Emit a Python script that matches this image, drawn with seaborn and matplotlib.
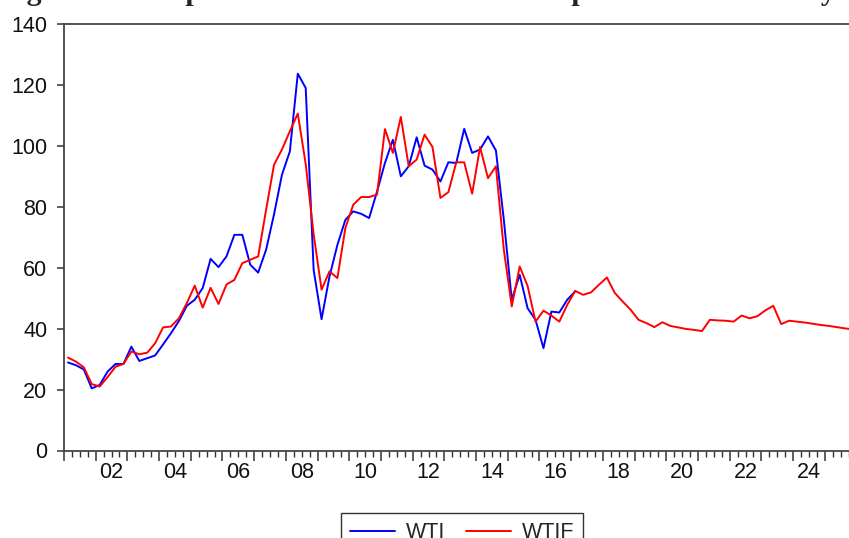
import numpy as np
import pandas as pd
import matplotlib
matplotlib.use("Agg")
import matplotlib.pyplot as plt
from matplotlib.ticker import MultipleLocator
import seaborn as sns

# quarterly observations, first one is 2001Q1
start_year = 2001

# WTI spot (quarterly average), 2001Q1 - 2017Q1
wti = [28.9, 28.0, 26.6, 20.4, 21.5, 25.9, 28.4, 28.4, 34.1, 29.4,
       30.3, 31.2, 34.8, 38.5, 42.5, 47.5, 49.5, 53.3, 62.9, 60.2,
       63.7, 70.8, 70.8, 61.0, 58.4, 65.9, 77.5, 90.5, 98.2, 123.7,
       119.0, 59.3, 43.1, 57.1, 67.5, 75.7, 78.5, 77.7, 76.3, 85.0,
       94.4, 102.0, 90.0, 93.3, 102.8, 93.5, 92.2, 88.3, 94.6, 94.4,
       105.6, 97.7, 98.8, 103.1, 98.5, 75.7, 49.5, 57.7, 46.7, 42.9,
       33.6, 45.6, 45.3, 49.5, 52.2]

# WTIF (fitted + forecast), 2001Q1 - 2025Q4
wtif = [30.5, 29.2, 27.3, 21.8, 21.0, 24.1, 27.5, 28.4, 32.5, 31.6,
        32.1, 35.2, 40.4, 40.7, 43.4, 48.4, 54.1, 46.9, 53.4, 48.1,
        54.5, 56.0, 61.5, 62.6, 63.7, 79.0, 93.8, 98.8, 104.8, 110.6,
        94.0, 71.0, 52.8, 58.8, 56.6, 73.0, 80.7, 83.2, 83.2, 84.0,
        105.5, 97.7, 109.5, 93.3, 95.5, 103.7, 99.6, 82.9, 84.8, 94.6,
        94.6, 84.3, 99.6, 89.4, 93.3, 65.9, 47.3, 60.4, 54.0, 42.3,
        45.9, 44.3, 42.3, 47.8, 52.4, 51.1, 51.9, 54.4, 56.8, 51.7,
        48.9, 46.2, 42.9, 41.8, 40.5, 42.1, 40.9, 40.4, 39.9, 39.6,
        39.2, 42.9, 42.7, 42.6, 42.3, 44.3, 43.4, 44.1, 46.0, 47.5,
        41.5, 42.6, 42.3, 42.0, 41.6, 41.2, 40.9, 40.5, 40.1, 39.8]

label_years = list(range(2002, 2025, 2))
year_labels = ["02", "04", "06", "08", "10", "12", "14", "16", "18", "20", "22", "24"]
y_ticks = [0, 20, 40, 60, 80, 100, 120, 140]

title = "Figure 3: Comparison of actual and forecast prices over the study"


def to_frame(vals, name):
    # each quarter sits in the middle of its quarter interval
    t = start_year + 0.125 + 0.25 * np.arange(len(vals))
    return pd.DataFrame({"t": t, "price": vals, "series": name})


df = pd.concat([to_frame(wti, "WTI"), to_frame(wtif, "WTIF")], ignore_index=True)

sns.set_style("ticks")
plt.rcParams["font.family"] = ["Liberation Sans", "DejaVu Sans"]

W, H = 849, 538
px_year = 31.7
ax_left, ax_right = 64, 860
fig = plt.figure(figsize=(W / 100, H / 100), dpi=100)
ax = fig.add_axes([ax_left / W, (H - 450.5) / H, (ax_right - ax_left) / W, 426.5 / H])

sns.lineplot(data=df, x="t", y="price", hue="series",
             palette={"WTI": "#0000ff", "WTIF": "#ff0000"},
             linewidth=1.4, ax=ax, legend=False)

ax.set_xlim(start_year, start_year + (ax_right - ax_left) / px_year)
ax.set_ylim(0, 140)
ax.set_yticks(y_ticks)
ax.set_xlabel("")
ax.set_ylabel("")

# year / quarter ticks, labels in the middle of each year
ax.xaxis.set_major_locator(MultipleLocator(1))
ax.xaxis.set_minor_locator(MultipleLocator(0.25))
ax.tick_params(axis="x", which="major", direction="out", length=7, width=1.1,
               color="#333333", labelbottom=False)
ax.tick_params(axis="x", which="minor", direction="out", length=4, width=1.0,
               color="#333333")
ax.tick_params(axis="y", direction="out", length=5, width=1.1, color="#333333",
               labelsize=15.5, pad=7, labelcolor="#111111")

sec = ax.secondary_xaxis("bottom")
sec.set_xticks([y + 0.5 for y in label_years], labels=year_labels)
sec.tick_params(length=0, pad=8, labelsize=15.5, labelcolor="#111111")
sec.spines["bottom"].set_visible(False)

for side in ["left", "bottom", "top", "right"]:
    ax.spines[side].set_color("#444444")
    ax.spines[side].set_linewidth(1.3)

# legend below the plot
handles = [plt.Line2D([], [], color="#0000ff", lw=1.4),
           plt.Line2D([], [], color="#ff0000", lw=1.4)]
leg = fig.legend(handles, ["WTI", "WTIF"], loc="upper center",
                 bbox_to_anchor=(462 / W, 1 - 507 / H), ncol=2, fontsize=15.5,
                 frameon=True, fancybox=False, edgecolor="black",
                 handlelength=2.1, handletextpad=0.5, columnspacing=0.95,
                 borderpad=0.4, borderaxespad=0.3)
leg.get_frame().set_linewidth(1.0)

# title, mostly cut off at the top of the image
fig.text(0.0, 1 - 0.5 / H, title, ha="left", va="baseline",
         family=["Liberation Serif", "DejaVu Serif"], weight="bold", fontsize=21.5)

fig.savefig("out.png", dpi=100)
